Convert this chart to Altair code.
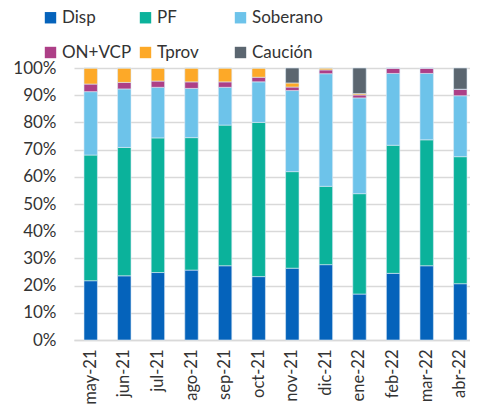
import altair as alt
import pandas as pd

months = ["may-21", "jun-21", "jul-21", "ago-21", "sep-21", "oct-21",
          "nov-21", "dic-21", "ene-22", "feb-22", "mar-22", "abr-22"]
series = ["Disp", "PF", "Soberano", "ON+VCP", "Tprov", "Caución"]
colors = ["#0563BB", "#0BB29B", "#6DC3EA", "#AD3F87", "#FDA928", "#5B6670"]

disp     = [21.8, 23.6, 24.8, 25.7, 27.3, 23.3, 26.4, 27.7, 16.9, 24.5, 27.3, 20.7]
pf       = [46.2, 47.2, 49.5, 48.7, 51.7, 56.7, 35.5, 28.8, 36.9, 47.1, 46.3, 46.7]
soberano = [23.3, 21.5, 18.6, 18.1, 13.9, 14.9, 29.8, 41.4, 35.2, 26.4, 24.4, 22.4]
on_vcp   = [2.8, 2.4, 2.3, 2.4, 2.0, 1.7, 1.3, 1.4, 1.1, 2.0, 2.0, 2.4]
tprov    = [5.9, 5.3, 4.8, 5.1, 5.1, 3.4, 1.5, 0.7, 0.5, 0.0, 0.0, 0.0]
caucion  = [0.0, 0.0, 0.0, 0.0, 0.0, 0.0, 5.5, 0.0, 9.4, 0.0, 0.0, 7.8]

values = [disp, pf, soberano, on_vcp, tprov, caucion]
rows = []
for si, (name, vals) in enumerate(zip(series, values)):
    for m, v in zip(months, vals):
        rows.append({"mes": m, "serie": name, "valor": v, "orden": si})
df = pd.DataFrame(rows)

chart = alt.Chart(df).mark_bar(stroke="#dce9f5", strokeWidth=0.6).encode(
    x=alt.X("mes:N", sort=months, title=None,
            scale=alt.Scale(paddingInner=0.6, paddingOuter=0.193, align=0.77),
            axis=alt.Axis(labelAngle=-90, labelFont="Lato", labelFontSize=16.5,
                          labelColor="#333333", ticks=False, domainColor="#d9d9d9",
                          domainWidth=1.5, labelPadding=9, grid=False)),
    y=alt.Y("valor:Q", stack="normalize", title=None,
            scale=alt.Scale(domain=[0, 1]),
            axis=alt.Axis(format=".0%", values=[i / 10 for i in range(11)],
                          labelFont="Lato", labelFontSize=17, labelColor="#333333",
                          ticks=False, domain=False, gridColor="#d9d9d9",
                          gridWidth=1.5, labelPadding=18)),
    color=alt.Color("serie:N", sort=series,
                    scale=alt.Scale(domain=series, range=colors),
                    legend=alt.Legend(title=None, orient="none", legendX=-32, legendY=-59,
                                      direction="horizontal",
                                      columns=3, gridAlign="all", columnPadding=4,
                                      rowPadding=17, symbolType="square", symbolSize=130,
                                      symbolStrokeWidth=0, labelFont="Lato",
                                      labelFontSize=17, labelColor="#333333",
                                      labelOffset=3, padding=0)),
    order=alt.Order("orden:Q", sort="ascending"),
).properties(
    width=396, height=272,
    autosize=alt.AutoSizeParams(type="none"),
    padding={"left": 66, "top": 60, "right": 0, "bottom": 68},
).configure_view(stroke=None)

chart.save("out.html", embed_options={"renderer": "svg", "actions": False})
